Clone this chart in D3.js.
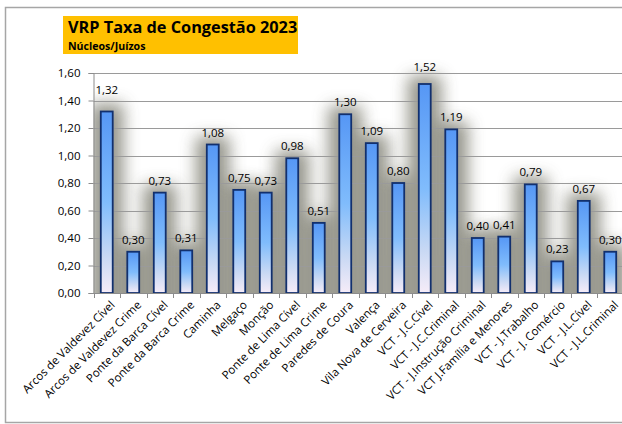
<!DOCTYPE html>
<html>
<head>
<meta charset="utf-8">
<script src="https://cdn.jsdelivr.net/npm/d3@7"></script>
<style>
  html, body { margin: 0; padding: 0; background: #fff; }
  svg { display: block; font-family: "Open Sans", "Noto Sans", sans-serif; }
</style>
</head>
<body>
<svg id="chart" width="622" height="424"></svg>
<script>
// Congestion rate per court unit, 2023
const categories = [
  "Arcos de Valdevez Cível", "Arcos de Valdevez Crime", "Ponte da Barca Cível",
  "Ponte da Barca Crime", "Caminha", "Melgaço", "Monção", "Ponte de Lima Cível",
  "Ponte de Lima Crime", "Paredes de Coura", "Valença", "Vila Nova de Cerveira",
  "VCT - J.C.Cível", "VCT - J.C.Criminal", "VCT - J.Instrução Criminal",
  "VCT J.Família e Menores", "VCT - J.Trabalho", "VCT - J. Comércio",
  "VCT - J.L.Cível", "VCT - J.L.Criminal"
];
const values = [1.32, 0.30, 0.73, 0.31, 1.08, 0.75, 0.73, 0.98, 0.51, 1.30,
                1.09, 0.80, 1.52, 1.19, 0.40, 0.41, 0.79, 0.23, 0.67, 0.30];
const yTicks = [0, 0.2, 0.4, 0.6, 0.8, 1.0, 1.2, 1.4, 1.6];
const title = "VRP Taxa de Congestão 2023";
const subtitle = "Núcleos/Juízos";

const svg = d3.select("#chart");
const plot = { left: 93.5, right: 623.5, top: 73, bottom: 293 };

const fmt = v => d3.format(".2f")(v).replace(".", ",");

const x = d3.scaleBand().domain(categories).range([plot.left, plot.right]).padding(0);
const y = d3.scaleLinear().domain([0, 1.6]).range([plot.bottom, plot.top]);
const barW = x.bandwidth() * 0.45;

const defs = svg.append("defs");
const grad = defs.append("linearGradient")
  .attr("id", "barFill").attr("x1", 0).attr("y1", 0).attr("x2", 0).attr("y2", 1);
grad.append("stop").attr("offset", "0%").attr("stop-color", "#5697f5");
grad.append("stop").attr("offset", "50%").attr("stop-color", "#80bcfc");
grad.append("stop").attr("offset", "80%").attr("stop-color", "#c9d9f4");
grad.append("stop").attr("offset", "100%").attr("stop-color", "#f6ecf8");

defs.append("filter").attr("id", "soft")
  .attr("x", "-100%").attr("y", "-50%").attr("width", "300%").attr("height", "200%")
  .append("feGaussianBlur").attr("stdDeviation", 8);

defs.append("clipPath").attr("id", "plotClip")
  .append("rect")
  .attr("x", plot.left).attr("y", plot.top - 20)
  .attr("width", plot.right - plot.left).attr("height", plot.bottom - plot.top + 20);

// outer frame
svg.append("rect")
  .attr("x", 5.5).attr("y", 7.5).attr("width", 630).attr("height", 415)
  .attr("fill", "#fff").attr("stroke", "#a6a6a6").attr("stroke-width", 1.5);

// title block
svg.append("rect")
  .attr("x", 63).attr("y", 16).attr("width", 235).attr("height", 38)
  .attr("fill", "#ffc000");
svg.append("text")
  .attr("x", 68).attr("y", 33)
  .attr("font-size", 16.3).attr("font-weight", "bold").attr("fill", "#000")
  .text(title);
svg.append("text")
  .attr("x", 68).attr("y", 49.5)
  .attr("font-size", 10.6).attr("font-weight", "bold").attr("fill", "#000")
  .text(subtitle);

// soft grey halo behind the bars
svg.append("g").attr("clip-path", "url(#plotClip)")
  .selectAll("rect").data(values).join("rect")
  .attr("x", (d, i) => x(categories[i]) + x.bandwidth() / 2 - barW / 2 - 11)
  .attr("y", d => y(d) - 8)
  .attr("width", barW + 22)
  .attr("height", d => plot.bottom - y(d) + 24)
  .attr("fill", "#86867a")
  .attr("opacity", 0.85)
  .attr("filter", "url(#soft)");

// gridlines
svg.append("g").selectAll("line").data(yTicks.filter(t => t > 0)).join("line")
  .attr("x1", plot.left).attr("x2", plot.right)
  .attr("y1", d => Math.round(y(d)) + 0.5).attr("y2", d => Math.round(y(d)) + 0.5)
  .attr("stroke", "#9a9a9a").attr("stroke-width", 1);

// y axis
const yAxis = svg.append("g")
  .attr("transform", `translate(${plot.left},0)`)
  .call(d3.axisLeft(y).tickValues(yTicks).tickFormat(fmt).tickSize(5).tickPadding(8));
yAxis.select(".domain").attr("stroke", "#8c8c8c");
yAxis.selectAll(".tick line").attr("stroke", "#8c8c8c");
yAxis.selectAll(".tick text")
  .attr("font-size", 11.5).attr("fill", "#000")
  .attr("font-family", "\"Open Sans\", sans-serif");

// bars
svg.append("g").selectAll("rect").data(values).join("rect")
  .attr("x", (d, i) => x(categories[i]) + x.bandwidth() / 2 - barW / 2)
  .attr("y", d => y(d))
  .attr("width", barW)
  .attr("height", d => plot.bottom - y(d))
  .attr("fill", "url(#barFill)")
  .attr("stroke", "#12306e").attr("stroke-width", 1.8);

// x axis with boundary ticks
const xg = svg.append("g");
xg.append("line")
  .attr("x1", plot.left).attr("x2", plot.right)
  .attr("y1", plot.bottom + 0.5).attr("y2", plot.bottom + 0.5)
  .attr("stroke", "#8c8c8c");
xg.selectAll("line.tk").data(categories).join("line").attr("class", "tk")
  .attr("x1", d => Math.round(x(d)) + 0.5).attr("x2", d => Math.round(x(d)) + 0.5)
  .attr("y1", plot.bottom).attr("y2", plot.bottom + 5)
  .attr("stroke", "#8c8c8c");
xg.selectAll("text").data(categories).join("text")
  .attr("transform", d => `translate(${x(d) + x.bandwidth() / 2 + 3},${plot.bottom + 7}) rotate(-45)`)
  .attr("text-anchor", "end")
  .attr("dy", "0.7em")
  .attr("font-size", 11.5).attr("fill", "#000")
  .text(d => d);

// value labels
const lift = { 0: 10, 12: 5 };
svg.append("g").selectAll("text").data(values).join("text")
  .attr("x", (d, i) => x(categories[i]) + x.bandwidth() / 2)
  .attr("y", (d, i) => y(d) - 8 - (lift[i] || 0))
  .attr("text-anchor", "middle")
  .attr("font-size", 11.5).attr("fill", "#000")
  .text(fmt);
</script>
</body>
</html>
